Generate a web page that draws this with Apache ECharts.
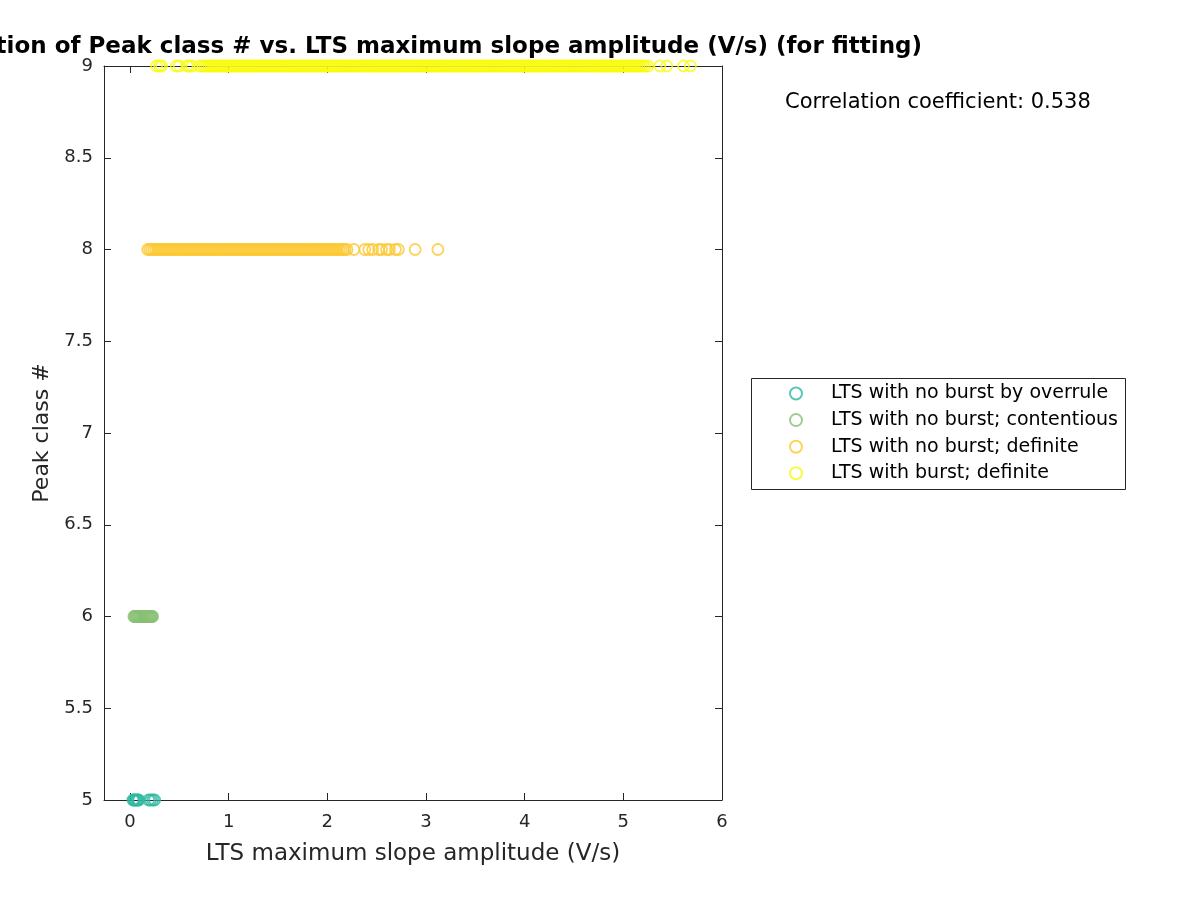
<!DOCTYPE html>
<html>
<head>
<meta charset="utf-8">
<title>Peak class vs LTS maximum slope amplitude</title>
<script src="https://cdn.jsdelivr.net/npm/echarts@6/dist/echarts.min.js"></script>
<style>
  html, body { margin: 0; padding: 0; background: #fff; }
  #chart { width: 1200px; height: 900px; }
</style>
</head>
<body>
<div id="chart"></div>
<script>
// x values (V/s), one list per peak class
var overruleX = [0.03, 0.04, 0.05, 0.06, 0.07, 0.08, 0.09, 0.19, 0.21, 0.23, 0.25]
var contentiousX = [
  0.04, 0.05, 0.06, 0.07, 0.08, 0.09, 0.1, 0.11, 0.12, 0.13,
  0.14, 0.15, 0.16, 0.17, 0.18, 0.19, 0.2, 0.21, 0.22, 0.23
]
var noBurstX = [
  0.18, 0.2, 0.22, 0.24, 0.26, 0.28, 0.3, 0.32, 0.34, 0.36,
  0.38, 0.4, 0.42, 0.44, 0.46, 0.48, 0.5, 0.52, 0.54, 0.56,
  0.58, 0.6, 0.62, 0.64, 0.66, 0.68, 0.7, 0.72, 0.74, 0.76,
  0.78, 0.8, 0.82, 0.84, 0.86, 0.88, 0.9, 0.92, 0.94, 0.96,
  0.98, 1.0, 1.02, 1.04, 1.06, 1.08, 1.1, 1.12, 1.14, 1.16,
  1.18, 1.2, 1.22, 1.24, 1.26, 1.28, 1.3, 1.32, 1.34, 1.36,
  1.38, 1.4, 1.42, 1.44, 1.46, 1.48, 1.5, 1.52, 1.54, 1.56,
  1.58, 1.6, 1.62, 1.64, 1.66, 1.68, 1.7, 1.72, 1.74, 1.76,
  1.78, 1.8, 1.82, 1.84, 1.86, 1.88, 1.9, 1.92, 1.94, 1.96,
  1.98, 2.0, 2.02, 2.04, 2.06, 2.08, 2.1, 2.12, 2.14, 2.16,
  2.18, 2.2,
  2.27, 2.38, 2.42, 2.46, 2.52, 2.55, 2.6, 2.63, 2.69, 2.72, 2.89, 3.12
]
var burstX = [
  0.27, 0.3, 0.32, 0.47, 0.5, 0.58, 0.6, 0.63, 0.71, 0.74,
  0.76, 0.78, 0.8, 0.82, 0.84, 0.86, 0.88, 0.9, 0.92, 0.94,
  0.96, 0.98, 1.0, 1.02, 1.04, 1.06, 1.08, 1.1, 1.12, 1.14,
  1.16, 1.18, 1.2, 1.22, 1.24, 1.26, 1.28, 1.3, 1.32, 1.34,
  1.36, 1.38, 1.4, 1.42, 1.44, 1.46, 1.48, 1.5, 1.52, 1.54,
  1.56, 1.58, 1.6, 1.62, 1.64, 1.66, 1.68, 1.7, 1.72, 1.74,
  1.76, 1.78, 1.8, 1.82, 1.84, 1.86, 1.88, 1.9, 1.92, 1.94,
  1.96, 1.98, 2.0, 2.02, 2.04, 2.06, 2.08, 2.1, 2.12, 2.14,
  2.16, 2.18, 2.2, 2.22, 2.24, 2.26, 2.28, 2.3, 2.32, 2.34,
  2.36, 2.38, 2.4, 2.42, 2.44, 2.46, 2.48, 2.5, 2.52, 2.54,
  2.56, 2.58, 2.6, 2.62, 2.64, 2.66, 2.68, 2.7, 2.72, 2.74,
  2.76, 2.78, 2.8, 2.82, 2.84, 2.86, 2.88, 2.9, 2.92, 2.94,
  2.96, 2.98, 3.0, 3.02, 3.04, 3.06, 3.08, 3.1, 3.12, 3.14,
  3.16, 3.18, 3.2, 3.22, 3.24, 3.26, 3.28, 3.3, 3.32, 3.34,
  3.36, 3.38, 3.4, 3.42, 3.44, 3.46, 3.48, 3.5, 3.52, 3.54,
  3.56, 3.58, 3.6, 3.62, 3.64, 3.66, 3.68, 3.7, 3.72, 3.74,
  3.76, 3.78, 3.8, 3.82, 3.84, 3.86, 3.88, 3.9, 3.92, 3.94,
  3.96, 3.98, 4.0, 4.02, 4.04, 4.06, 4.08, 4.1, 4.12, 4.14,
  4.16, 4.18, 4.2, 4.22, 4.24, 4.26, 4.28, 4.3, 4.32, 4.34,
  4.36, 4.38, 4.4, 4.42, 4.44, 4.46, 4.48, 4.5, 4.52, 4.54,
  4.56, 4.58, 4.6, 4.62, 4.64, 4.66, 4.68, 4.7, 4.72, 4.74,
  4.76, 4.78, 4.8, 4.82, 4.84, 4.86, 4.88, 4.9, 4.92, 4.94,
  4.96, 4.98, 5.0, 5.02, 5.04, 5.06, 5.08, 5.1, 5.12, 5.14,
  5.16, 5.18, 5.2, 5.22,
  5.25, 5.37, 5.44, 5.61, 5.68
]

var seriesNames = [
  'LTS with no burst by overrule',
  'LTS with no burst; contentious',
  'LTS with no burst; definite',
  'LTS with burst; definite'
]
var peakClasses = [5, 6, 8, 9]
var seriesColors = ['#2fb9a0', '#88c074', '#fdc832', '#f9fb0e']
var seriesX = [overruleX, contentiousX, noBurstX, burstX]

var xTickLabels = ['0', '1', '2', '3', '4', '5', '6']
var titleText = 'Correlation of Peak class # vs. LTS maximum slope amplitude (V/s) (for fitting)'
var corrText = 'Correlation coefficient: 0.538'

var axisColor = '#262626'
var font = 'DejaVu Sans'

var chart = echarts.init(document.getElementById('chart'))

var series = seriesNames.map(function (name, i) {
  return {
    name: name,
    type: 'scatter',
    symbol: 'circle',
    symbolSize: 11,
    clip: false,
    itemStyle: {
      color: 'rgba(0,0,0,0)',
      borderColor: seriesColors[i],
      borderWidth: 1.8
    },
    emphasis: { disabled: true },
    data: seriesX[i].map(function (x) {
      return [x, peakClasses[i]]
    })
  }
})

function baseAxis(extra) {
  return Object.assign({
    type: 'value',
    axisLine: { show: true, onZero: false, lineStyle: { color: axisColor, width: 1 } },
    axisTick: { show: true, inside: true, length: 7, lineStyle: { color: axisColor } },
    splitLine: { show: false },
    axisLabel: { show: false }
  }, extra)
}

chart.setOption({
  animation: false,
  backgroundColor: '#fff',
  grid: { left: 104, right: 478, top: 66, bottom: 100 },
  xAxis: [
    baseAxis({
      position: 'bottom',
      min: -0.263,
      max: 6,
      name: 'LTS maximum slope amplitude (V/s)',
      nameLocation: 'middle',
      nameGap: 43,
      nameTextStyle: { fontFamily: font, fontSize: 23, color: axisColor },
      axisLabel: {
        show: true,
        margin: 13,
        fontFamily: font,
        fontSize: 18,
        color: axisColor,
        formatter: function (v) {
          return Number.isInteger(v) ? xTickLabels[v] : ''
        }
      }
    }),
    baseAxis({ position: 'top', min: -0.263, max: 6 })
  ],
  yAxis: [
    baseAxis({
      position: 'left',
      min: 5,
      max: 9,
      interval: 0.5,
      name: 'Peak class #',
      nameLocation: 'middle',
      nameGap: 51,
      nameTextStyle: { fontFamily: font, fontSize: 22, color: axisColor },
      axisLabel: { show: true, margin: 11, fontFamily: font, fontSize: 18, color: axisColor }
    }),
    baseAxis({ position: 'right', min: 5, max: 9, interval: 0.5 })
  ],
  legend: {
    orient: 'vertical',
    left: 789,
    top: 384,
    itemWidth: 60,
    itemHeight: 12,
    itemGap: 7.6,
    padding: 0,
    selectedMode: false,
    textStyle: { fontFamily: font, fontSize: 19, color: '#000', lineHeight: 16 },
    data: seriesNames
  },
  graphic: [
    {
      type: 'rect',
      shape: { x: 751.5, y: 378.5, width: 374, height: 111 },
      style: { fill: '#fff', stroke: axisColor, lineWidth: 1 },
      z: -1
    },
    {
      type: 'text',
      x: 922,
      y: 47,
      style: {
        text: titleText,
        fontFamily: font,
        fontSize: 23,
        fontWeight: 'bold',
        fill: '#000',
        textAlign: 'right',
        textVerticalAlign: 'middle'
      }
    },
    {
      type: 'text',
      x: 785,
      y: 103,
      style: {
        text: corrText,
        fontFamily: font,
        fontSize: 21,
        fill: '#000',
        textAlign: 'left',
        textVerticalAlign: 'middle'
      }
    }
  ],
  series: series
})
</script>
</body>
</html>
